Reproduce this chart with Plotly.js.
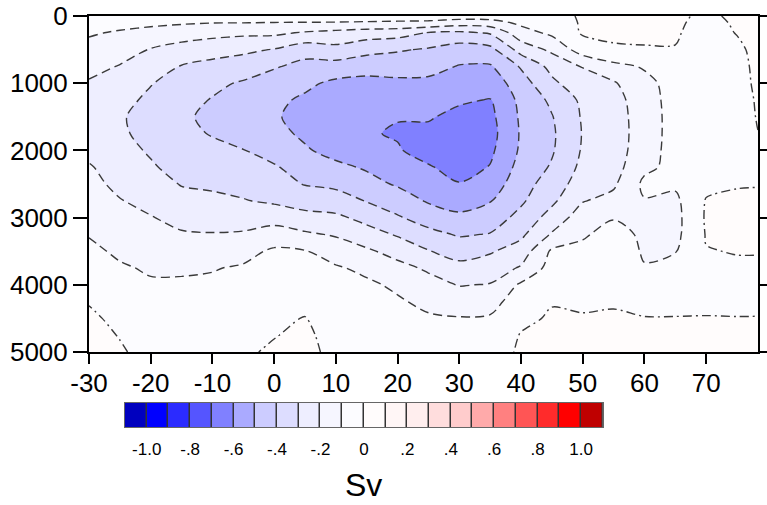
<!DOCTYPE html>
<html>
<head>
<meta charset="utf-8">
<script src="https://cdn.plot.ly/plotly-3.0.1.min.js"></script>
<style>
html,body{margin:0;padding:0;background:#fff;}
#chart{width:767px;height:505px;}
</style>
</head>
<body>
<div id="chart"></div>
<script>
// ---- data ----
const latitudes = [-30,-25,-20,-15,-10,-5,0,5,10,15,20,25,30,35,40,45,50,55,60,65,70,75,80];
const depths = [0,100,250,500,750,1000,1250,1500,1750,2000,2250,2500,2750,3000,3250,3500,3750,4000,4250,4500,4750,5000];

// streamfunction profiles (Sv), one array per latitude, top to bottom
const psiM30 = [-0.04,-0.055,-0.09,-0.13,-0.17,-0.21,-0.25,-0.27,-0.26,-0.23,-0.19,-0.17,-0.15,-0.13,-0.105,-0.08,-0.055,-0.03,-0.005,0.015,0.03,0.04];
const psiM25 = [-0.05,-0.07,-0.11,-0.16,-0.205,-0.24,-0.27,-0.29,-0.285,-0.27,-0.25,-0.225,-0.195,-0.165,-0.14,-0.115,-0.09,-0.07,-0.05,-0.02,-0.004,0.01];
const psiM20 = [-0.05,-0.08,-0.13,-0.205,-0.25,-0.295,-0.32,-0.335,-0.33,-0.31,-0.29,-0.26,-0.23,-0.195,-0.17,-0.14,-0.11,-0.09,-0.07,-0.055,-0.04,-0.03];
const psiM15 = [-0.05,-0.09,-0.15,-0.24,-0.305,-0.34,-0.37,-0.385,-0.38,-0.36,-0.33,-0.305,-0.27,-0.23,-0.19,-0.15,-0.11,-0.09,-0.075,-0.06,-0.05,-0.04];
const psiM10 = [-0.05,-0.098,-0.17,-0.26,-0.33,-0.38,-0.405,-0.42,-0.405,-0.38,-0.35,-0.315,-0.28,-0.24,-0.195,-0.15,-0.105,-0.085,-0.07,-0.06,-0.05,-0.04];
const psiM05 = [-0.05,-0.099,-0.18,-0.28,-0.35,-0.41,-0.44,-0.455,-0.44,-0.397,-0.365,-0.33,-0.295,-0.24,-0.19,-0.13,-0.09,-0.07,-0.05,-0.035,-0.02,-0.01];
const psiP00 = [-0.05,-0.102,-0.18,-0.305,-0.39,-0.45,-0.48,-0.49,-0.475,-0.44,-0.39,-0.36,-0.315,-0.24,-0.155,-0.085,-0.06,-0.045,-0.03,-0.015,-0.003,0.01];
const psiP05 = [-0.05,-0.104,-0.21,-0.36,-0.43,-0.48,-0.515,-0.53,-0.515,-0.49,-0.445,-0.405,-0.34,-0.27,-0.185,-0.095,-0.07,-0.05,-0.025,0.003,0.015,0.02];
const psiP10 = [-0.05,-0.105,-0.23,-0.33,-0.44,-0.52,-0.555,-0.57,-0.565,-0.53,-0.48,-0.42,-0.36,-0.28,-0.21,-0.145,-0.09,-0.07,-0.055,-0.04,-0.03,-0.02];
const psiP15 = [-0.05,-0.11,-0.25,-0.37,-0.46,-0.53,-0.57,-0.59,-0.59,-0.56,-0.51,-0.47,-0.405,-0.33,-0.26,-0.185,-0.12,-0.085,-0.07,-0.055,-0.045,-0.035];
const psiP20 = [-0.05,-0.115,-0.26,-0.39,-0.46,-0.52,-0.56,-0.595,-0.61,-0.59,-0.55,-0.51,-0.45,-0.39,-0.31,-0.235,-0.17,-0.115,-0.09,-0.075,-0.06,-0.05];
const psiP25 = [-0.05,-0.12,-0.305,-0.41,-0.47,-0.52,-0.56,-0.59,-0.625,-0.645,-0.59,-0.565,-0.51,-0.445,-0.37,-0.295,-0.215,-0.165,-0.12,-0.09,-0.075,-0.065];
const psiP30 = [-0.05,-0.15,-0.32,-0.45,-0.505,-0.54,-0.585,-0.63,-0.675,-0.68,-0.64,-0.595,-0.54,-0.48,-0.41,-0.34,-0.27,-0.205,-0.145,-0.095,-0.075,-0.06];
const psiP35 = [-0.05,-0.14,-0.29,-0.43,-0.51,-0.56,-0.605,-0.625,-0.635,-0.62,-0.595,-0.555,-0.505,-0.45,-0.395,-0.31,-0.25,-0.195,-0.135,-0.09,-0.065,-0.05];
const psiP40 = [-0.04,-0.08,-0.14,-0.26,-0.39,-0.445,-0.475,-0.485,-0.49,-0.485,-0.465,-0.44,-0.415,-0.37,-0.32,-0.255,-0.19,-0.085,-0.05,-0.02,0.005,0.015];
const psiP45 = [-0.03,-0.05,-0.08,-0.18,-0.27,-0.32,-0.38,-0.405,-0.415,-0.41,-0.39,-0.355,-0.32,-0.26,-0.19,-0.085,-0.06,-0.03,-0.005,0.01,0.015,0.015];
const psiP50 = [0.01,0.01,0.01,-0.05,-0.195,-0.24,-0.28,-0.29,-0.295,-0.29,-0.275,-0.25,-0.205,-0.15,-0.11,-0.08,-0.05,-0.03,-0.01,0.005,0.01,0.01];
const psiP55 = [0.015,0.012,0.006,-0.004,-0.13,-0.21,-0.24,-0.255,-0.26,-0.255,-0.24,-0.215,-0.17,-0.105,-0.07,-0.045,-0.025,-0.012,-0.004,0.005,0.01,0.01];
const psiP60 = [0.015,0.012,0.008,-0.003,-0.09,-0.13,-0.14,-0.14,-0.14,-0.135,-0.12,-0.08,-0.105,-0.115,-0.115,-0.11,-0.095,-0.05,-0.015,0.002,0.006,0.008];
const psiP65 = [0.01,0.008,0.005,-0.002,-0.04,-0.06,-0.065,-0.07,-0.07,-0.07,-0.075,-0.085,-0.12,-0.13,-0.125,-0.105,-0.06,-0.03,-0.015,0.002,0.006,0.008];
const psiP70 = [-0.01,-0.015,-0.02,-0.03,-0.04,-0.05,-0.05,-0.05,-0.05,-0.045,-0.04,-0.02,0.005,0.01,0.005,-0.003,-0.02,-0.02,-0.01,0.002,0.006,0.008];
const psiP75 = [0.01,0.006,0.002,-0.01,-0.02,-0.025,-0.03,-0.03,-0.03,-0.025,-0.02,-0.004,0.01,0.012,0.01,0.003,-0.01,-0.012,-0.008,0.001,0.006,0.008];
const psiP80 = [0.02,0.02,0.02,0.025,0.03,0.03,0.025,0.02,0.012,-0.002,-0.004,-0.002,0.008,0.01,0.008,0.002,-0.008,-0.01,-0.006,0.001,0.006,0.008];

// axis ticks
const xTickVals = [-30,-20,-10,0,10,20,30,40,50,60,70];
const xTickLabels = ['-30','-20','-10','0','10','20','30','40','50','60','70'];
const yTickVals = [0,1000,2000,3000,4000,5000];
const yTickLabels = ['0','1000','2000','3000','4000','5000'];

// label bar: band centres (one per colour) and labelled boundaries
const bandCenters = [-1.05,-0.95,-0.85,-0.75,-0.65,-0.55,-0.45,-0.35,-0.25,-0.15,-0.05,0.05,0.15,0.25,0.35,0.45,0.55,0.65,0.75,0.85,0.95,1.05];
const barTickVals = [-1.0,-0.8,-0.6,-0.4,-0.2,0,0.2,0.4,0.6,0.8,1.0];
const barTickLabels = ['-1.0','-.8','-.6','-.4','-.2','0','.2','.4','.6','.8','1.0'];
const unitLabel = 'Sv';

// ---- styles ----
const bandColors = ['#0000BF','#0000FF','#2B2BFF','#5555FF','#8080FF','#AAAAFF','#CCCCFF','#DDDDFF','#EEEEFF','#F6F6FF','#FCFCFF',
                    '#FFFCFC','#FFF6F6','#FFEEEE','#FFDDDD','#FFCCCC','#FFAAAA','#FF8080','#FF5555','#FF2B2B','#FF0000','#BF0000'];
const nb = bandColors.length;
const discreteScale = bandColors.map((c, i) => [i / (nb - 1), c]);

const profiles = [psiM30,psiM25,psiM20,psiM15,psiM10,psiM05,psiP00,psiP05,psiP10,psiP15,psiP20,psiP25,psiP30,psiP35,psiP40,psiP45,psiP50,psiP55,psiP60,psiP65,psiP70,psiP75,psiP80];
const zGrid = depths.map((d, r) => profiles.map(p => p[r]));

const fontFam = 'Liberation Sans, Arial, Helvetica, sans-serif';
const lineCol = '#3a3a3a';

const fillTrace = {
  type: 'contour', x: latitudes, y: depths, z: zGrid,
  autocontour: false,
  contours: {start: -1.0, end: 1.0, size: 0.1, coloring: 'fill', showlines: false},
  colorscale: discreteScale, line: {width: 0}, showscale: false, hoverinfo: 'skip'
};
const negTrace = {
  type: 'contour', x: latitudes, y: depths, z: zGrid,
  autocontour: false,
  contours: {start: -1.0, end: -0.1, size: 0.1, coloring: 'none'},
  line: {color: lineCol, width: 1.4, dash: '9px,5px', smoothing: 0.9},
  showscale: false, hoverinfo: 'skip'
};
const zeroTrace = {
  type: 'contour', x: latitudes, y: depths, z: zGrid,
  autocontour: false,
  contours: {start: 0, end: 0, size: 0.1, coloring: 'none'},
  line: {color: lineCol, width: 1.4, dash: '9px,4px,2px,4px', smoothing: 0.9},
  showscale: false, hoverinfo: 'skip'
};
const barTrace = {
  type: 'heatmap', x: bandCenters, y: [0], z: [bandCenters],
  zmin: bandCenters[0], zmax: bandCenters[nb - 1],
  colorscale: discreteScale, showscale: false, xgap: 1.5,
  xaxis: 'x2', yaxis: 'y2', hoverinfo: 'skip'
};

const layout = {
  width: 767, height: 505,
  margin: {l: 89, r: 9, t: 16, b: 78, pad: 0},
  paper_bgcolor: '#ffffff', plot_bgcolor: '#333333',
  font: {family: fontFam, color: '#000'},
  showlegend: false,
  xaxis: {
    domain: [0, 1], anchor: 'y', range: [-30, 78.4],
    tickmode: 'array', tickvals: xTickVals, ticktext: xTickLabels,
    ticks: 'outside', ticklen: 10, tickwidth: 2, tickcolor: '#000', ticklabelstandoff: -3,
    showline: true, linewidth: 2, linecolor: '#000', mirror: true,
    showgrid: false, zeroline: false, tickfont: {size: 26, family: fontFam}
  },
  yaxis: {
    domain: [0.1825, 1], anchor: 'x', range: [5000, 0],
    tickmode: 'array', tickvals: yTickVals, ticktext: yTickLabels,
    ticks: 'outside', ticklen: 14, tickwidth: 2, tickcolor: '#000',
    showline: true, linewidth: 2, linecolor: '#000', mirror: 'ticks',
    showgrid: false, zeroline: false, tickfont: {size: 26, family: fontFam}
  },
  xaxis2: {
    domain: [0.0538, 0.768], anchor: 'y2', range: [-1.1, 1.1],
    tickmode: 'array', tickvals: barTickVals, ticktext: barTickLabels,
    ticks: 'outside', ticklen: 7, tickcolor: 'rgba(0,0,0,0)',
    showline: true, linewidth: 1, linecolor: '#666', mirror: true,
    showgrid: false, zeroline: false, tickfont: {size: 17, family: fontFam}
  },
  yaxis2: {
    domain: [0, 0.0584], anchor: 'x2', range: [-0.5, 0.5],
    showticklabels: false, ticks: '',
    showline: true, linewidth: 1, linecolor: '#666', mirror: true,
    showgrid: false, zeroline: false
  },
  annotations: [{
    text: unitLabel, xref: 'paper', yref: 'paper', x: 0.41, y: -0.14,
    xanchor: 'center', yanchor: 'middle', showarrow: false,
    font: {size: 32, family: fontFam, color: '#000'}
  }]
};

Plotly.newPlot('chart', [fillTrace, negTrace, zeroTrace, barTrace], layout, {staticPlot: true, displayModeBar: false});
</script>
</body>
</html>
